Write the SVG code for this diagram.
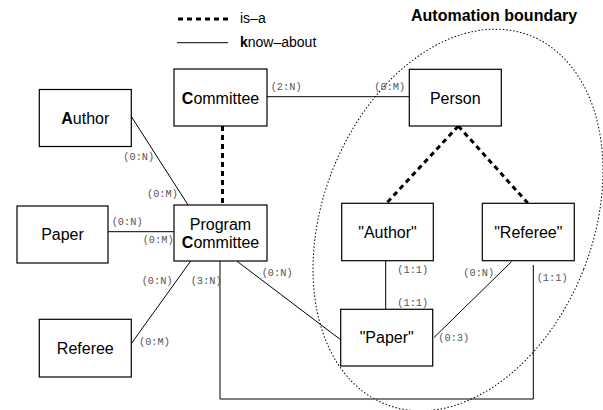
<svg xmlns="http://www.w3.org/2000/svg" width="603" height="410" viewBox="0 0 603 410">
  <style>
    .box rect { fill: #fff; stroke: #000; stroke-width: 1.2; }
    .name { font-family: "Liberation Sans", Arial, sans-serif; font-size: 16px; fill: #000; text-anchor: middle; }
    .b { font-weight: bold; }
    .card { font-family: "Liberation Mono", "Courier New", monospace; font-size: 10.3px; fill: #555; }
    .know { fill: none; stroke: #000; stroke-width: 1; }
    .isa { fill: none; stroke: #000; stroke-width: 3; stroke-dasharray: 5 4; }
    .legend { font-family: "Liberation Sans", Arial, sans-serif; font-size: 14px; fill: #000; }
    .title { font-family: "Liberation Sans", Arial, sans-serif; font-size: 16px; font-weight: bold; fill: #000; }
    .boundary { fill: none; stroke: #000; stroke-width: 1; stroke-dasharray: 1.5 2; }
  </style>

  <!-- legend -->
  <g id="legend">
    <line class="isa" x1="178" y1="19" x2="228" y2="19"/>
    <text class="legend" x="240" y="23">is–a</text>
    <line class="know" x1="177" y1="42.7" x2="228" y2="42.7"/>
    <text class="legend" x="240" y="47"><tspan class="b">k</tspan>now–about</text>
  </g>

  <!-- automation boundary -->
  <g id="boundary">
    <text class="title" x="411" y="21">Automation boundary</text>
    <ellipse class="boundary" cx="458" cy="220" rx="135" ry="198" transform="rotate(21.4 458 220)"/>
  </g>

  <!-- connectors -->
  <g id="connectors">
    <line class="know" x1="267" y1="96.7" x2="409" y2="96.7"/>
    <line class="know" x1="131" y1="116" x2="189" y2="206.5"/>
    <line class="know" x1="108" y1="231.7" x2="174" y2="231.7"/>
    <line class="know" x1="131" y1="344" x2="190.7" y2="261"/>
    <line class="know" x1="236.7" y1="261" x2="341" y2="340"/>
    <polyline class="know" points="220,261 220,399 533.3,399 533.3,265"/>
    <line class="know" x1="385.7" y1="261" x2="385.7" y2="309"/>
    <line class="know" x1="511.7" y1="261.5" x2="434" y2="337.5"/>

    <line class="isa" x1="222.5" y1="126" x2="222.5" y2="205"/>
    <line class="isa" x1="458.3" y1="126" x2="386.7" y2="203"/>
    <line class="isa" x1="458.3" y1="126" x2="527.7" y2="203"/>

    <text class="card" x="270.7" y="90">(2:N)</text>
    <text class="card" x="374.3" y="90">(0:M)</text>
    <text class="card" x="123.3" y="160">(0:N)</text>
    <text class="card" x="147" y="197">(0:M)</text>
    <text class="card" x="111.7" y="225">(0:N)</text>
    <text class="card" x="142.7" y="243">(0:M)</text>
    <text class="card" x="141.7" y="284">(0:N)</text>
    <text class="card" x="190.7" y="284">(3:N)</text>
    <text class="card" x="261.7" y="276">(0:N)</text>
    <text class="card" x="139" y="344.5">(0:M)</text>
    <text class="card" x="397.3" y="272.5">(1:1)</text>
    <text class="card" x="397.3" y="306">(1:1)</text>
    <text class="card" x="463.3" y="276">(0:N)</text>
    <text class="card" x="536.7" y="281">(1:1)</text>
    <text class="card" x="438.3" y="341">(0:3)</text>
  </g>

  <!-- entities -->
  <g id="committee" class="box">
    <rect x="174" y="69" width="93" height="57"/>
    <text class="name" x="220.5" y="103.5"><tspan class="b">C</tspan>ommittee</text>
  </g>
  <g id="person" class="box">
    <rect x="409.3" y="69.3" width="92" height="56.7"/>
    <text class="name" x="455.3" y="103.5">Person</text>
  </g>
  <g id="author" class="box">
    <rect x="39.3" y="89.5" width="92" height="57"/>
    <text class="name" x="85.3" y="124"><tspan class="b">A</tspan>uthor</text>
  </g>
  <g id="paper" class="box">
    <rect x="17" y="206" width="91" height="57"/>
    <text class="name" x="62.5" y="240">Paper</text>
  </g>
  <g id="program-committee" class="box">
    <rect x="174" y="205" width="93" height="56"/>
    <text class="name" x="220.5" y="230">Program</text>
    <text class="name" x="220.5" y="248"><tspan class="b">C</tspan>ommittee</text>
  </g>
  <g id="referee" class="box">
    <rect x="39.3" y="319.3" width="92" height="57.7"/>
    <text class="name" x="85.3" y="353.5">Referee</text>
  </g>
  <g id="author-role" class="box">
    <rect x="341.7" y="203.3" width="91.6" height="57.4"/>
    <text class="name" x="387.5" y="237.5">"Author"</text>
  </g>
  <g id="referee-role" class="box">
    <rect x="482.3" y="203.3" width="92" height="57.4"/>
    <text class="name" x="528.3" y="237.5">"Referee"</text>
  </g>
  <g id="paper-role" class="box">
    <rect x="340.7" y="309.3" width="92" height="56.7"/>
    <text class="name" x="386.7" y="343.3">"Paper"</text>
  </g>
</svg>
